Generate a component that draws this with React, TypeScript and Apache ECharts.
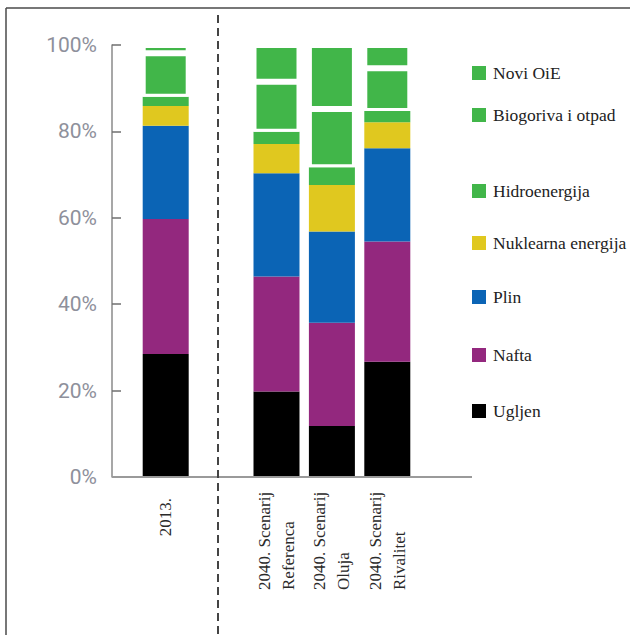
import React, { useEffect, useRef } from "react";
import * as echarts from "echarts";

const categories = ["2013.", "", "2040. Scenarij\nReferenca", "2040. Scenarij\nOluja", "2040. Scenarij\nRivalitet"];
const yTicks = [0, 20, 40, 60, 80, 100];

const ugljen = [28.5, null, 19.8, 11.8, 26.7];
const nafta = [31.2, null, 26.6, 23.9, 27.8];
const plin = [21.6, null, 23.9, 21.1, 21.6];
const nuklearna = [4.6, null, 6.8, 10.8, 6.0];
const hidro = [2.1, null, 2.8, 4.1, 2.6];
const biogoriva = [10.1, null, 11.6, 13.5, 9.9];
const noviOie = [1.9, null, 8.5, 14.8, 5.4];

const seriesNames = ["Ugljen", "Nafta", "Plin", "Nuklearna energija", "Hidroenergija", "Biogoriva i otpad", "Novi OiE"];
const seriesData = [ugljen, nafta, plin, nuklearna, hidro, biogoriva, noviOie];
const seriesColors = ["#000000", "#93287e", "#0b64b5", "#e0c81f", "#41b649", "#41b649", "#41b649"];
const gapped = [false, false, false, false, false, true, true];

const legendOrder = ["Novi OiE", "Biogoriva i otpad", "Hidroenergija", "Nuklearna energija", "Plin", "Nafta", "Ugljen"];
const legendCenters = [72, 114, 190, 242, 296, 354, 410];

export default function App() {
  const ref = useRef<HTMLDivElement>(null);
  useEffect(() => {
    if (!ref.current) return;
    const chart = echarts.init(ref.current, undefined, { renderer: "svg" });
    const option: any = {
      animation: false,
      backgroundColor: "#ffffff",
      grid: { left: 138, top: 45, width: 277, height: 432, containLabel: false },
      xAxis: {
        type: "category",
        data: categories,
        boundaryGap: true,
        axisLine: { show: false },
        axisTick: { show: false },
        axisLabel: {
          interval: 0,
          rotate: 90,
          margin: 13,
          color: "#2a2a2a",
          fontFamily: "Liberation Serif",
          fontSize: 17,
          formatter: (value: string, index: number) => {
            if (!value) return "";
            if (index === 0) return `{b|${value}}`;
            return value.split("\n").map((l) => `{a|${l}}`).join("\n");
          },
          rich: {
            a: { width: 100, align: "left", fontFamily: "Liberation Serif", fontSize: 17, lineHeight: 24, color: "#2a2a2a" },
            b: { padding: [0, 8, 0, 0], fontFamily: "Liberation Serif", fontSize: 17, color: "#2a2a2a" },
          },
        },
      },
      yAxis: {
        type: "value",
        min: yTicks[0],
        max: yTicks[yTicks.length - 1],
        interval: 20,
        offset: 26,
        axisLine: { show: true, lineStyle: { color: "#8a8a8a", width: 1.5 } },
        axisTick: { show: true, inside: true, length: 9, lineStyle: { color: "#6f6f6f", width: 1.5 } },
        splitLine: { show: false },
        axisLabel: {
          margin: 15,
          formatter: "{value}%",
          color: "#8e909b",
          fontFamily: "Roboto",
          fontSize: 21,
        },
      },
      legend: legendOrder.map((name, i) => ({
        data: [name],
        left: 472,
        top: legendCenters[i] - 8,
        padding: 0,
        orient: "vertical",
        itemWidth: 14,
        itemHeight: 14,
        icon: "rect",
        selectedMode: false,
        itemStyle: { borderWidth: 0 },
        textStyle: { fontFamily: "Liberation Serif", fontSize: 17.5, color: "#222222", padding: [0, 0, 0, 2] },
      })),
      series: seriesNames.map((name, i) => ({
        name,
        type: "bar",
        stack: "total",
        barWidth: 46,
        data: seriesData[i],
        itemStyle: gapped[i]
          ? { color: seriesColors[i], borderColor: "#ffffff", borderWidth: 3 }
          : { color: seriesColors[i] },
      })),
      graphic: [
        { type: "line", shape: { x1: 112, y1: 477, x2: 472, y2: 477 }, style: { stroke: "#9a9a9a", lineWidth: 2 }, z: 10 },
        { type: "line", shape: { x1: 218, y1: 15, x2: 218, y2: 635 }, style: { stroke: "#444444", lineWidth: 2, lineDash: [8, 5] }, z: 10 },
        { type: "line", shape: { x1: 6, y1: 8, x2: 630, y2: 8 }, style: { stroke: "#4a4a4a", lineWidth: 1.5 }, z: 10 },
        { type: "line", shape: { x1: 6, y1: 8, x2: 6, y2: 635 }, style: { stroke: "#4a4a4a", lineWidth: 1.5 }, z: 10 },
      ],
    };
    chart.setOption(option);
    return () => chart.dispose();
  }, []);
  return <div ref={ref} style={{ position: "absolute", left: 0, top: 0, width: 630, height: 635, background: "#fff" }} />;
}
